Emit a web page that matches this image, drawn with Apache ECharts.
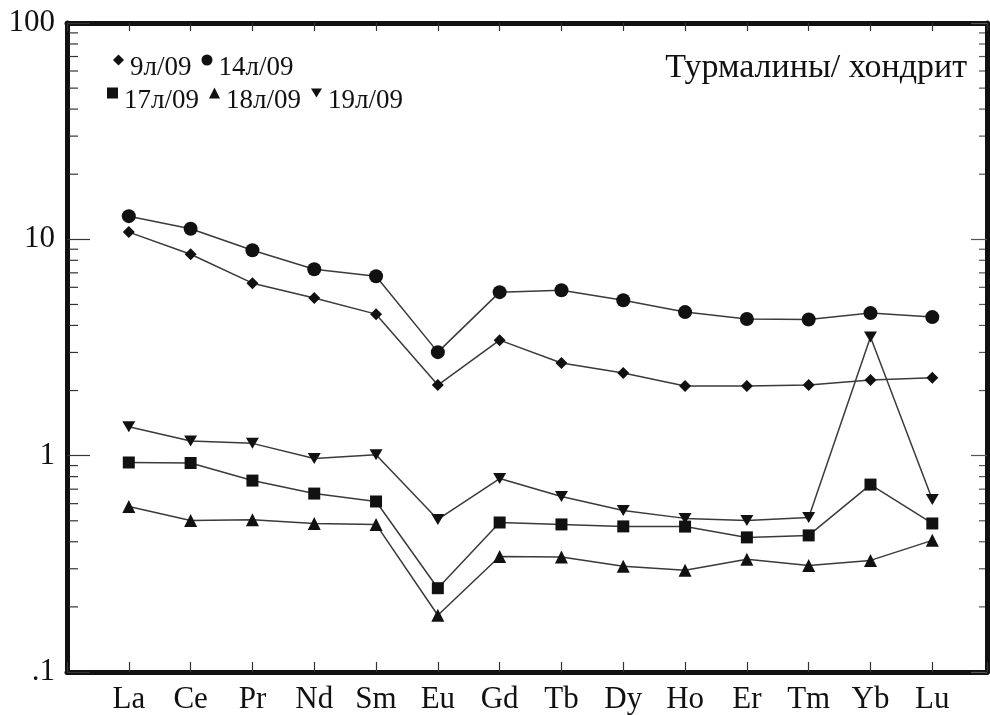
<!DOCTYPE html>
<html lang="ru">
<head>
  <meta charset="UTF-8">
  <title>Турмалины/ хондрит</title>
  <style>
    * { margin: 0; padding: 0; }
    body { background: #fff; overflow: hidden; }
    #chart { width: 990px; height: 715px; }
  </style>
</head>
<body>
  <div id="chart"></div>
  <script src="https://cdn.jsdelivr.net/npm/echarts@6/dist/echarts.min.js"></script>
  <script>
    // REE, chondrite-normalised
    const elements = ['La', 'Ce', 'Pr', 'Nd', 'Sm', 'Eu', 'Gd', 'Tb', 'Dy', 'Ho', 'Er', 'Tm', 'Yb', 'Lu'];

    const s9 = [10.8, 8.53, 6.27, 5.35, 4.51, 2.12, 3.42, 2.68, 2.41, 2.10, 2.10, 2.12, 2.24, 2.29];
    const s14 = [12.8, 11.2, 8.9, 7.27, 6.75, 3.01, 5.70, 5.82, 5.23, 4.61, 4.28, 4.26, 4.56, 4.37];
    const s17 = [0.93, 0.925, 0.767, 0.668, 0.614, 0.244, 0.491, 0.481, 0.471, 0.47, 0.419, 0.428, 0.735, 0.486];
    const s18 = [0.582, 0.502, 0.505, 0.486, 0.481, 0.183, 0.342, 0.34, 0.308, 0.295, 0.332, 0.311, 0.328, 0.406];
    const s19 = [1.36, 1.17, 1.14, 0.97, 1.01, 0.507, 0.784, 0.647, 0.558, 0.513, 0.502, 0.518, 3.54, 0.627];

    const yTickLabels = { 0.1: '.1', 1: '1', 10: '10', 100: '100' };
    const minorTickValues = [0.2, 0.3, 0.4, 0.5, 0.6, 0.7, 0.8, 0.9,
      2, 3, 4, 5, 6, 7, 8, 9,
      20, 30, 40, 50, 60, 70, 80, 90];

    const FONT = "'Liberation Serif', 'Times New Roman', serif";
    const INK = '#111';
    const LINE = '#3a3a3a';
    const X_MIN = -1;
    const X_MAX = 13.885;
    const DOWN_TRI = 'path://M0,0 L12,0 L6,10 Z';

    const chart = echarts.init(document.getElementById('chart'));

    const toPairs = arr => arr.map((v, i) => [i, v]);

    const lineSeries = (name, data, symbol, size) => ({
      name: name,
      type: 'line',
      data: toPairs(data),
      symbol: symbol,
      symbolSize: size,
      showAllSymbol: true,
      itemStyle: { color: INK },
      lineStyle: { color: LINE, width: 1.5 },
      z: 5
    });

    const xBase = {
      type: 'value',
      min: X_MIN,
      max: X_MAX,
      interval: 1,
      splitLine: { show: false }
    };

    // icon sits a little higher than the text, as in the original
    const legendBase = {
      orient: 'horizontal',
      itemWidth: 11,
      itemHeight: 11,
      itemGap: 10,
      formatter: name => '{t|' + name + '}',
      textStyle: {
        fontFamily: FONT,
        fontSize: 27,
        color: INK,
        rich: {
          t: { fontFamily: FONT, fontSize: 27, color: INK, padding: [15, 0, 0, 1] }
        }
      }
    };

    chart.setOption({
      animation: false,
      backgroundColor: '#fff',
      title: {
        text: 'Турмалины/ хондрит',
        right: 18,
        top: 46,
        textStyle: { fontFamily: FONT, fontSize: 34, fontWeight: 'normal', color: INK }
      },
      legend: [
        Object.assign({}, legendBase, {
          left: 108, top: 49,
          data: [{ name: '9л/09', icon: 'diamond' }, { name: '14л/09', icon: 'circle' }]
        }),
        Object.assign({}, legendBase, {
          left: 102, top: 82,
          data: [{ name: '17л/09', icon: 'rect' }, { name: '18л/09', icon: 'triangle' }, { name: '19л/09', icon: DOWN_TRI }]
        })
      ],
      grid: { left: 67, top: 23, width: 926, height: 652 },
      xAxis: [
        Object.assign({}, xBase, {
          position: 'bottom',
          axisLine: { onZero: false, lineStyle: { color: INK, width: 5 } },
          axisTick: { inside: true, length: 10, lineStyle: { color: '#333', width: 1.2 } },
          axisLabel: {
            margin: 12,
            fontFamily: FONT,
            fontSize: 31,
            color: INK,
            formatter: v => (Number.isInteger(v) && v >= 0 && v < elements.length) ? elements[v] : ''
          }
        }),
        Object.assign({}, xBase, {
          position: 'top',
          axisLine: { onZero: false, lineStyle: { color: INK, width: 5 } },
          axisTick: { inside: true, length: 8, lineStyle: { color: '#333', width: 1.2 } },
          axisLabel: { show: false }
        })
      ],
      yAxis: [
        {
          type: 'log',
          logBase: 10,
          min: 0.1,
          max: 100,
          position: 'left',
          splitLine: { show: false },
          axisLine: { onZero: false, lineStyle: { color: INK, width: 5 } },
          axisTick: { inside: true, length: 23, lineStyle: { color: '#333', width: 1.2 } },
          axisLabel: {
            margin: 12,
            padding: [6, 0, 0, 0],
            fontFamily: FONT,
            fontSize: 31,
            color: INK,
            formatter: v => yTickLabels[v] !== undefined ? yTickLabels[v] : ''
          }
        },
        {
          type: 'log',
          logBase: 10,
          min: 0.1,
          max: 100,
          position: 'right',
          splitLine: { show: false },
          axisLine: { onZero: false, lineStyle: { color: INK, width: 5 } },
          axisTick: { inside: true, length: 16, lineStyle: { color: '#555', width: 1.2 } },
          axisLabel: { show: false }
        }
      ],
      series: [
        lineSeries('9л/09', s9, 'diamond', 12),
        lineSeries('14л/09', s14, 'circle', 14),
        lineSeries('17л/09', s17, 'rect', 12),
        lineSeries('18л/09', s18, 'triangle', 13),
        lineSeries('19л/09', s19, DOWN_TRI, [13, 11]),
        {
          // minor log ticks on both vertical axes
          type: 'custom',
          silent: true,
          clip: false,
          z: 3,
          data: minorTickValues.map(v => [X_MIN, v]),
          renderItem: (params, api) => {
            const v = api.value(1);
            const l = api.coord([X_MIN, v]);
            const r = api.coord([X_MAX, v]);
            return {
              type: 'group',
              children: [
                { type: 'line', shape: { x1: l[0] + 2, y1: l[1], x2: l[0] + 11, y2: l[1] }, style: { stroke: '#333', lineWidth: 1.2 } },
                { type: 'line', shape: { x1: r[0] - 2, y1: r[1], x2: r[0] - 8, y2: r[1] }, style: { stroke: '#555', lineWidth: 1.2 } }
              ]
            };
          }
        }
      ]
    });
  </script>
</body>
</html>
